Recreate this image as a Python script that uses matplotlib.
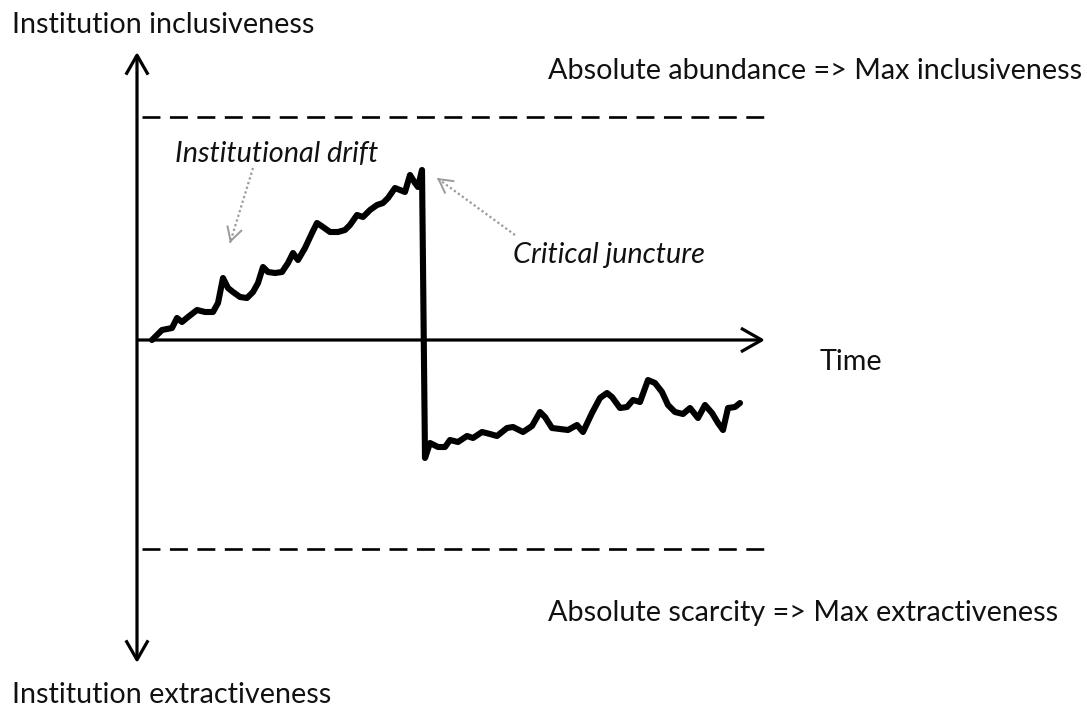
import matplotlib
matplotlib.use("Agg")
import matplotlib.pyplot as plt
from matplotlib.patches import FancyArrowPatch

# Institution level over time (origin = where the two axes cross)
drift_time = [15, 25, 35, 40, 45, 51, 60, 68, 76, 81, 86, 91, 96, 103, 110, 116, 121, 126,
              131, 138, 145, 151, 156, 161, 168, 175, 180, 186, 193, 201, 208, 213, 220,
              226, 233, 240, 246, 251, 258, 263, 268, 273, 278, 281, 285]
drift_level = [0, 10, 12, 22, 18, 23, 30, 28, 28, 37, 62, 52, 48, 43, 42, 48, 57, 73,
               68, 67, 68, 77, 87, 80, 92, 107, 117, 113, 108, 108, 110, 115, 125,
               123, 130, 135, 137, 142, 152, 150, 148, 165, 157, 153, 170]
after_time = [288, 293, 301, 308, 313, 321, 330, 336, 345, 353, 360, 370, 376, 386, 395,
              403, 408, 415, 423, 431, 440, 446, 455, 463, 470, 475, 483, 490, 496, 503,
              511, 518, 525, 531, 538, 546, 553, 561, 568, 575, 581, 586, 591, 598, 603]
after_level = [-118, -103, -107, -107, -100, -102, -96, -98, -92, -94, -96, -88, -87, -92, -86,
               -72, -77, -88, -89, -90, -85, -92, -73, -58, -53, -57, -68, -67, -60, -62,
               -40, -43, -52, -65, -72, -74, -68, -78, -65, -73, -83, -90, -68, -67, -63]

max_inclusive = 223
max_extractive = -209

axis_labels = ["Institution inclusiveness", "Institution extractiveness", "Time"]
bound_labels = ["Absolute abundance => Max inclusiveness",
                "Absolute scarcity => Max extractiveness"]
note_labels = ["Institutional drift", "Critical juncture"]

FONT = "Lato"
INK = "#111111"
GREY = "#9a9a9a"


def fit_size(fig, ax, text, width_px, **kw):
    # scale the font so the string spans the wanted pixel width
    t = ax.text(0, 0, text, fontsize=20, family=FONT, **kw)
    fig.canvas.draw()
    w = t.get_window_extent().width
    t.remove()
    return 20 * width_px / w


def arrow(ax, start, end, style, color, lw, ls="-"):
    p = FancyArrowPatch(start, end, arrowstyle=style, mutation_scale=1, color=color,
                        lw=lw, ls=ls, shrinkA=0, shrinkB=0, capstyle="butt")
    ax.add_patch(p)


def hint(ax, start, end):
    # dotted grey shaft with a solid open head
    ax.plot([start[0], end[0]], [start[1], end[1]], color=GREY, lw=1.6,
            ls=(0, (1, 1.2)))
    dx, dy = end[0] - start[0], end[1] - start[1]
    arrow(ax, (end[0] - dx * 0.02, end[1] - dy * 0.02), end,
          "->,head_length=10,head_width=5.5", GREY, 1.4)


fig = plt.figure(figsize=(10.87, 7.08), dpi=100)
ax = fig.add_axes([0, 0, 1, 1])
ax.set_xlim(-137, 950)
ax.set_ylim(-368, 340)
ax.axis("off")

# axes of the diagram
arrow(ax, (0, -323), (0, 288), "<->,head_length=14,head_width=8", "black", 2.3)
arrow(ax, (0, 0), (628, 0), "->,head_length=15,head_width=8.5", "black", 2.3)

# bounds
for lvl in (max_inclusive, max_extractive):
    ax.plot([5, 631], [lvl, lvl], color="black", lw=1.9, ls=(0, (6.8, 3.6)))

# institution path
ax.plot(drift_time + after_time, drift_level + after_level, color="black", lw=4.4,
        solid_joinstyle="round", solid_capstyle="round")

# notes
hint(ax, (116, 172), (93, 97))
hint(ax, (378, 105), (300, 162))

upright = fit_size(fig, ax, bound_labels[0], 535)
italic = fit_size(fig, ax, note_labels[1], 192, style="italic")

txt = dict(family=FONT, color=INK, va="baseline", ha="left")
ax.text(-125, 307, axis_labels[0], fontsize=upright, **txt)
ax.text(-125, -363, axis_labels[1], fontsize=upright, **txt)
ax.text(683, -30, axis_labels[2], fontsize=upright, **txt)
ax.text(411, 261, bound_labels[0], fontsize=upright, **txt)
ax.text(411, -281, bound_labels[1], fontsize=upright, **txt)
ax.text(38, 178, note_labels[0], fontsize=italic, style="italic", **txt)
ax.text(376, 77, note_labels[1], fontsize=italic, style="italic", **txt)

fig.savefig("out.png", dpi=100, facecolor="white")
